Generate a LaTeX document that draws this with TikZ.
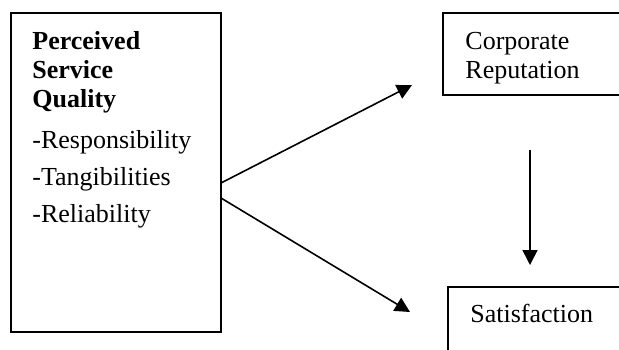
\documentclass[tikz,border=0pt]{standalone}
\usepackage{fontspec}
\setmainfont{Liberation Serif}
\usetikzlibrary{arrows.meta}

\begin{document}
\begin{tikzpicture}[x=0.5pt, y=-0.5pt,
  box/.style={draw, line width=1pt, inner sep=0pt},
  txt/.style={inner sep=0pt, anchor=base west, align=left},
  >={Triangle[length=7.5pt,width=7.5pt]}]
  \clip (0,0) rectangle (619,349);
  % boxes
  \node (qual) [box, minimum width=105pt, minimum height=159.5pt] at (116,172.5) {};
  \node (rep) [box, minimum width=118.5pt, minimum height=41pt] at (561.5,54) {};
  \node (sat) [box, minimum width=116pt, minimum height=56.5pt] at (564,343.5) {};
  % texts (base = last line)
  \node (qualhead) [txt, font=\bfseries\fontsize{13}{14.5}\selectfont] at (32,107) {Perceived\\Service\\Quality};
  \node (quallist) [txt, font=\fontsize{13}{18.5}\selectfont] at (32,222) {-Responsibility\\-Tangibilities\\-Reliability};
  \node (reptext) [txt, font=\fontsize{13}{14.5}\selectfont] at (465,78) {Corporate\\Reputation};
  \node (sattext) [txt, font=\fontsize{13}{14.5}\selectfont] at (470,322) {Satisfaction};
  % arrows
  \coordinate (qualup) at (221,183);
  \coordinate (qualdown) at (221,198);
  \coordinate (repin) at (412,85);
  \coordinate (satin) at (410,312);
  \coordinate (repout) at (530,150);
  \coordinate (satup) at (530,265);
  \path[->, line width=0.8pt]
  (qualup) edge (repin)
  (qualdown) edge (satin)
  (repout) edge (satup)
  ;
\end{tikzpicture}
\end{document}
